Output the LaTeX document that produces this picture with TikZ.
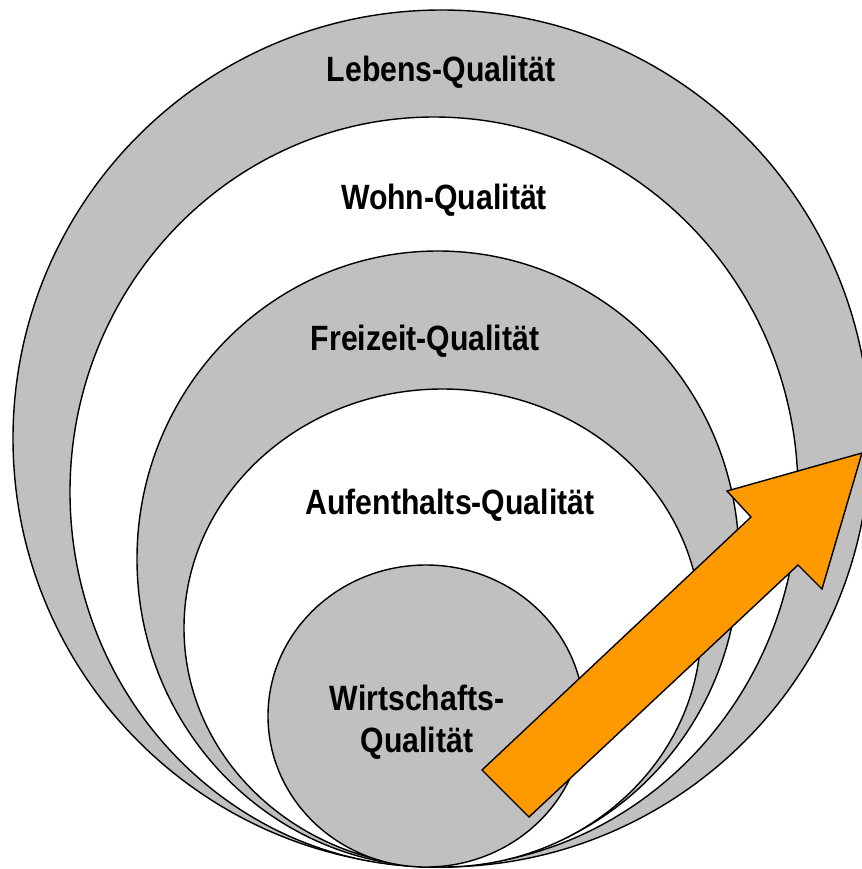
\documentclass[tikz,border=0pt]{standalone}
\usepackage{fontspec}
\setmainfont{Liberation Sans}[FakeStretch=0.86]
\definecolor{ringgray}{HTML}{C0C0C0}
\definecolor{arroworange}{HTML}{FF9900}
\tikzset{
  ring/.style={draw=black, line width=0.8pt},
  label/.style={font=\bfseries\fontsize{20}{24}\selectfont, align=center, inner sep=0pt}
}
\begin{document}
\begin{tikzpicture}[x=0.02cm, y=-0.02cm]
\useasboundingbox (0,0) rectangle (862,869);
%
\path [ring, fill=ringgray] (441.5,438.5) ellipse [x radius=428.5, y radius=428.5];
\path [ring, fill=white]    (434,492)     ellipse [x radius=364,   y radius=375];
\path [ring, fill=ringgray] (438,559)     ellipse [x radius=301,   y radius=308];
\path [ring, fill=white]    (442.5,628)   ellipse [x radius=258.5, y radius=239];
\path [ring, fill=ringgray] (426,716)     ellipse [x radius=158,   y radius=151];
%
\path (441,72)  node[label] (lebens)   {Lebens-Qualität};
\path (444,200) node[label] (wohn)     {Wohn-Qualität};
\path (425,341) node[label] (freizeit) {Freizeit-Qualität};
\path (450,505) node[label] (aufenth)  {Aufenthalts-Qualität};
\path (417,722) node[label] (wirtsch)  {Wirtschafts-\\Qualität};
%
\draw [ring, fill=arroworange, line join=miter]
     (482,770)
  -- (751,517)
  -- (727,491)
  -- (862,453)
  -- (822,589)
  -- (798,565)
  -- (529,817)
  -- cycle;
\end{tikzpicture}
\end{document}
